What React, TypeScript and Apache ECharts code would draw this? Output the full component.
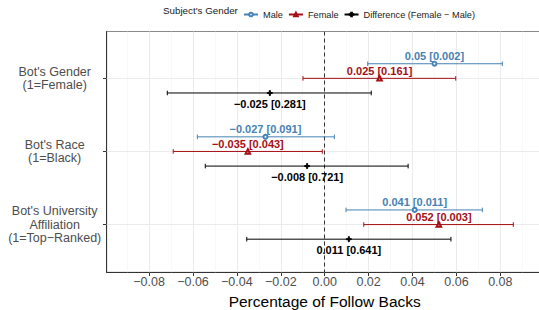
import React, { useEffect, useRef } from "react";
import * as echarts from "echarts";

const categories = [
  "Bot's Gender\n(1=Female)",
  "Bot's Race\n(1=Black)",
  "Bot's University\nAffiliation\n(1=Top\u2212Ranked)",
];
const categoryPos = [1, 2, 3];

const groupNames = ["Male", "Female", "Difference (Female \u2212 Male)"];
const groupOffsets = [-0.2, 0, 0.2];
const groupColors = ["#4682B4", "#A50F15", "#000000"];
const groupSymbols = [
  "emptyCircle",
  "emptyTriangle",
  "path://M4,0h2v4h4v2h-4v4h-2v-4h-4v-2h4z",
];

const maleEst = [0.05, -0.027, 0.041];
const maleLo = [0.0196, -0.058, 0.0097];
const maleHi = [0.0809, 0.0044, 0.0718];
const maleP = [0.002, 0.091, 0.011];

const femaleEst = [0.025, -0.035, 0.052];
const femaleLo = [-0.0099, -0.069, 0.0178];
const femaleHi = [0.0597, -0.0011, 0.0859];
const femaleP = [0.161, 0.043, 0.003];

const diffEst = [-0.025, -0.008, 0.011];
const diffLo = [-0.0717, -0.0544, -0.0355];
const diffHi = [0.0212, 0.038, 0.0575];
const diffP = [0.281, 0.721, 0.641];

const xTicks = [-0.08, -0.06, -0.04, -0.02, 0, 0.02, 0.04, 0.06, 0.08];
const xMinorTicks = [-0.09, -0.07, -0.05, -0.03, -0.01, 0.01, 0.03, 0.05, 0.07, 0.09];

const FONT = "'Liberation Sans', Arial, Helvetica, sans-serif";
const minus = (s: string) => s.replace("-", "\u2212");

const groups = [
  { est: maleEst, lo: maleLo, hi: maleHi, p: maleP },
  { est: femaleEst, lo: femaleLo, hi: femaleHi, p: femaleP },
  { est: diffEst, lo: diffLo, hi: diffHi, p: diffP },
];

export default function App() {
  const ref = useRef<HTMLDivElement>(null);
  useEffect(() => {
    if (!ref.current) return;
    const chart = echarts.init(ref.current, undefined, { renderer: "svg" });

    const ciSeries: any[] = groups.map((g, gi) => {
      const labels = g.est.map(
        (e, i) => minus(String(e)) + " [" + g.p[i].toFixed(3) + "]"
      );
      return {
        type: "custom",
        name: groupNames[gi] + " CI",
        z: 3,
        encode: { x: [0, 1, 2], y: 3 },
        data: g.est.map((e, i) => [g.lo[i], g.hi[i], e, categoryPos[i] + groupOffsets[gi]]),
        renderItem: (params: any, api: any) => {
          const y = api.value(3);
          const lo = api.coord([api.value(0), y]);
          const hi = api.coord([api.value(1), y]);
          const est = api.coord([api.value(2), y]);
          const color = groupColors[gi];
          const cap = 2.3;
          const ls = { stroke: color, lineWidth: 1 };
          const textY = gi === 2 ? est[1] + 10.6 : est[1] - 7.8;
          return {
            type: "group",
            children: [
              { type: "line", shape: { x1: lo[0], y1: lo[1], x2: hi[0], y2: hi[1] }, style: ls },
              { type: "line", shape: { x1: lo[0], y1: lo[1] - cap, x2: lo[0], y2: lo[1] + cap }, style: ls },
              { type: "line", shape: { x1: hi[0], y1: hi[1] - cap, x2: hi[0], y2: hi[1] + cap }, style: ls },
              {
                type: "text",
                x: est[0],
                y: textY,
                style: {
                  text: labels[params.dataIndex],
                  fill: color,
                  font: "bold 11px " + FONT,
                  align: "center",
                  verticalAlign: "middle",
                  textAlign: "center",
                  textVerticalAlign: "middle",
                },
              },
            ],
          };
        },
      };
    });

    const pointSeries: any[] = [];
    groups.forEach((g, gi) => {
      g.est.forEach((e, i) => {
        pointSeries.push({
          type: "line",
          name: groupNames[gi],
          z: 4,
          symbol: groupSymbols[gi],
          symbolSize: gi === 0 ? 4 : gi === 1 ? 4.5 : 5,
          showSymbol: true,
          color: groupColors[gi],
          itemStyle: { color: groupColors[gi], borderColor: groupColors[gi], borderWidth: 1 },
          lineStyle: { width: 1, color: groupColors[gi] },
          data: [[e, categoryPos[i] + groupOffsets[gi]]],
        });
      });
    });

    const gridSeries = {
      type: "line",
      name: "grid",
      z: 1,
      data: [],
      silent: true,
      markLine: {
        silent: true,
        z: 1,
        symbol: "none",
        label: { show: false },
        animation: false,
        data: [
          ...xMinorTicks.map((v) => ({ xAxis: v, lineStyle: { color: "#F3F3F3", width: 0.6, type: "solid" } })),
          ...xTicks.map((v) => ({ xAxis: v, lineStyle: { color: "#EBEBEB", width: 1, type: "solid" } })),
          ...categoryPos.map((v) => ({ yAxis: v, lineStyle: { color: "#EBEBEB", width: 1, type: "solid" } })),
          { xAxis: 0, lineStyle: { color: "#333333", width: 1, type: [4, 3] } },
        ],
      },
    };

    chart.setOption({
      animation: false,
      backgroundColor: "#ffffff",
      textStyle: { fontFamily: FONT },
      graphic: [
        {
          type: "text",
          left: 163,
          top: 5,
          style: { text: "Subject's Gender", fill: "#1a1a1a", font: "9.8px " + FONT },
        },
      ],
      legend: {
        left: 238,
        top: 5,
        itemWidth: 14,
        itemHeight: 4.5,
        itemGap: 5,
        data: groupNames,
        textStyle: { fontSize: 9.2, color: "#1a1a1a", fontFamily: FONT },
        selectedMode: false,
      },
      grid: {
        left: 106.7,
        top: 31.5,
        width: 436,
        height: 240.8,
        outerBoundsMode: "none",
        containLabel: false,
        show: true,
        borderColor: "#8a8a8a",
        borderWidth: 1,
        backgroundColor: "#ffffff",
      },
      xAxis: {
        type: "value",
        min: -0.0993,
        max: 0.0993,
        name: "Percentage of Follow Backs",
        nameLocation: "middle",
        nameGap: 16.6,
        nameTextStyle: { fontSize: 15.5, color: "#000000", fontFamily: FONT },
        axisLine: { show: true, onZero: false, lineStyle: { color: "#333333", width: 1 } },
        axisTick: { show: true, length: 3.7, customValues: xTicks, lineStyle: { color: "#333333" } },
        axisLabel: {
          customValues: xTicks,
          margin: 3,
          fontSize: 12.5,
          color: "#4D4D4D",
          fontFamily: FONT,
          formatter: (v: number) => minus(v.toFixed(2)),
        },
        splitLine: { show: false },
      },
      yAxis: {
        type: "value",
        inverse: true,
        min: 0.359,
        max: 3.653,
        axisLine: { show: true, onZero: false, lineStyle: { color: "#333333", width: 1 } },
        axisTick: { show: true, length: 3.7, customValues: categoryPos, lineStyle: { color: "#333333" } },
        axisLabel: {
          customValues: categoryPos,
          margin: 52,
          align: "center",
          fontSize: 12.5,
          lineHeight: 13.5,
          color: "#4D4D4D",
          fontFamily: FONT,
          formatter: (v: number) => categories[Math.round(v) - 1] ?? "",
        },
        splitLine: { show: false },
      },
      series: [gridSeries, ...ciSeries, ...pointSeries],
    });

    return () => chart.dispose();
  }, []);

  return (
    <div
      ref={ref}
      style={{ position: "fixed", left: 0, top: 0, width: 539, height: 310 }}
    />
  );
}
